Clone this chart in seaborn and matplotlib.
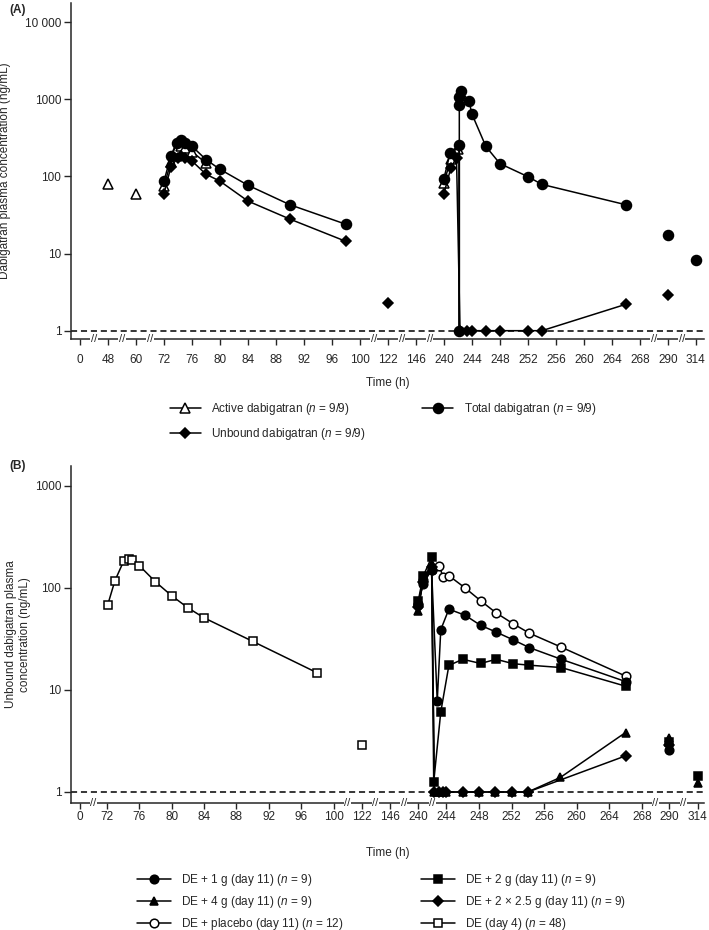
import numpy as np
import pandas as pd
import matplotlib
matplotlib.use('Agg')
import matplotlib.pyplot as plt
import matplotlib.transforms as mtransforms
from matplotlib.lines import Line2D
from matplotlib.ticker import FixedLocator, NullLocator
import seaborn as sns

# ---------------- panel A: dabigatran species (ng/mL) vs time (h) ----------------
a_total_p1_t = [72, 73, 73.8, 74.4, 75, 76, 78, 80, 84, 90, 98]
a_total_p1_c = [87, 185, 276, 296, 276, 247, 166, 124, 77, 43, 24]
a_total_p2_t = [240, 240.9, 242.2, 242.2, 242.2, 242.2, 242.4, 243.6, 244, 246, 248, 252, 254, 266]
a_total_p2_c = [94, 204, 257, 1, 847, 1064, 1300, 943, 646, 245, 147, 99.5, 79, 43]
a_total_pts_t = [290, 314]
a_total_pts_c = [17.3, 8.2]

a_unbound_p1_t = [72, 73, 74, 74.5, 75, 76, 78, 80, 84, 90, 98]
a_unbound_p1_c = [60, 134, 176, 185, 176, 159, 107, 87, 48, 28, 14.4]
a_unbound_p2_t = [240, 241, 241.8, 242.3, 243.3, 244, 246, 248, 252, 254, 266]
a_unbound_p2_c = [60, 130, 176, 1, 1, 1, 1, 1, 1, 1, 2.2]
a_unbound_pts_t = [122, 290]
a_unbound_pts_c = [2.3, 2.9]

a_active_p1_t = [72, 73, 73.8, 74.4, 75, 76, 78]
a_active_p1_c = [75, 155, 230, 250, 235, 210, 150]
a_active_p2_t = [240, 241, 242]
a_active_p2_c = [83, 170, 226]
a_active_pts_t = [48, 60]
a_active_pts_c = [79, 60]

# ---------------- panel B: unbound dabigatran by treatment ----------------
b_day4_t = [72.1, 73, 74.1, 74.7, 75.1, 76, 78, 80, 82, 84, 90, 98]
b_day4_c = [68, 118, 185, 194, 190, 166, 115, 84, 64, 51, 30, 14.7]
b_day4_pts_t = [122]
b_day4_pts_c = [2.9]

b_placebo_t = [240, 240.7, 241.9, 243, 243.5, 244.3, 246.3, 248.2, 250.1, 252.2, 254.2, 258.1, 266]
b_placebo_c = [70, 120, 150, 166, 128, 132, 100, 75, 57, 44.6, 36, 26.3, 13.7]

b_1g_t = [240, 240.7, 241.9, 242.7, 243.2, 244.3, 246.3, 248.2, 250.1, 252.2, 254.2, 258.1, 266]
b_1g_c = [68, 110, 150, 7.8, 39, 62, 54, 43, 37, 31, 26, 20, 12.1]
b_1g_pts_t = [290]
b_1g_pts_c = [2.6]

b_2g_t = [240, 240.7, 241.9, 242.2, 243.2, 244.3, 246, 248.2, 250.1, 252.2, 254.2, 258.1, 266]
b_2g_c = [74, 130, 200, 1.25, 6.1, 17.4, 20, 18.2, 20, 18.1, 17.5, 16.6, 10.9]
b_2g_pts_t = [290, 314]
b_2g_pts_c = [3.1, 1.42]

b_4g_t = [240, 240.7, 241.9, 242.3, 243, 243.5, 244, 246, 248, 250, 252, 254, 258, 266]
b_4g_c = [60, 120, 170, 1, 1, 1, 1, 1, 1, 1, 1, 1, 1.39, 3.83]
b_4g_pts_t = [290, 314]
b_4g_pts_c = [3.4, 1.22]

b_2x25_t = [240, 240.7, 241.9, 242.3, 243, 243.5, 244, 246, 248, 250, 252, 254, 266]
b_2x25_c = [65, 115, 160, 1, 1, 1, 1, 1, 1, 1, 1, 1, 2.26]
b_2x25_pts_t = [290]
b_2x25_pts_c = [2.9]

# broken time axis: tick hours and their slot positions along the axis
a_anchor_h = [0, 48, 60, 72, 100, 122, 146, 240, 268, 290, 314]
a_anchor_s = [0, 1, 2, 3, 10, 11, 12, 13, 20, 21, 22]
b_anchor_h = [0, 72, 100, 122, 146, 240, 244, 268, 290, 314]
b_anchor_s = [0, 0.96, 9.06, 10.06, 11.06, 12.08, 13.09, 20.07, 21.05, 22.06]

a_ticks = [0, 48, 60] + list(range(72, 101, 4)) + [122, 146] + list(range(240, 269, 4)) + [290, 314]
b_ticks = [0] + list(range(72, 101, 4)) + [122, 146] + list(range(240, 269, 4)) + [290, 314]
a_breaks = [(0, 48), (48, 60), (60, 72), (100, 122), (122, 146), (146, 240), (268, 290), (290, 314)]
b_breaks = [(0, 72), (100, 122), (122, 146), (146, 240), (240, 244), (268, 290), (290, 314)]

sns.set_style('ticks')
plt.rcParams['font.family'] = ['Liberation Sans Narrow', 'Liberation Sans', 'DejaVu Sans']
plt.rcParams['mathtext.fontset'] = 'custom'
plt.rcParams['mathtext.it'] = 'Liberation Sans:italic'
plt.rcParams['mathtext.rm'] = 'Liberation Sans'
FS = 8.5


def broken_scale(hours, slots):
    h = np.asarray(hours, float)
    s = np.asarray(slots, float)
    h = np.r_[h[0] - (h[1] - h[0]), h, h[-1] + (h[-1] - h[-2])]
    s = np.r_[s[0] - (s[1] - s[0]), s, s[-1] + (s[-1] - s[-2])]
    return (lambda x: np.interp(x, h, s)), (lambda y: np.interp(y, s, h))


def draw_series(ax, segs, marker, ms, fill='black'):
    rows = []
    for k, (t, c) in enumerate(segs):
        rows += [{'time': a, 'conc': b, 'seg': k} for a, b in zip(t, c)]
    df = pd.DataFrame(rows)
    sns.lineplot(data=df, x='time', y='conc', units='seg', estimator=None, sort=False,
                 color='black', lw=1.1, marker=marker, ms=ms, mfc=fill, mec='black',
                 mew=1.1, legend=False, ax=ax)


def split_pts(t, c):
    return [([a], [b]) for a, b in zip(t, c)]


def setup_axis(ax, anchors_h, anchors_s, ticks, breaks, ymax, ylabels, tick_pad):
    fwd, inv = broken_scale(anchors_h, anchors_s)
    ax.set_xscale('function', functions=(fwd, inv))
    ax.set_yscale('log')
    ax.set_xlim(inv(-0.32), inv(22.29))
    ax.xaxis.set_major_locator(FixedLocator(ticks))
    ax.xaxis.set_minor_locator(NullLocator())
    ax.set_xticklabels([str(t) for t in ticks])
    decades = [10 ** i for i in range(len(ylabels))]
    ax.yaxis.set_major_locator(FixedLocator(decades))
    ax.yaxis.set_minor_locator(NullLocator())
    ax.set_yticklabels(ylabels)
    ax.set_ylim(0.78, ymax)
    ax.axhline(1, color='black', lw=1.1, ls=(0, (4, 2.5)), zorder=1)
    sns.despine(ax=ax)
    for sp in ('left', 'bottom'):
        ax.spines[sp].set_linewidth(1.1)
    ax.tick_params(axis='x', length=4, width=1, pad=tick_pad, labelsize=FS, direction='out')
    ax.tick_params(axis='y', length=5, width=1, pad=2, labelsize=FS, direction='out')
    trans = mtransforms.blended_transform_factory(ax.transData, ax.transAxes)
    for h1, h2 in breaks:
        ax.text((h1 + h2) / 2, 0, '//', transform=trans, ha='center', va='center',
                fontsize=8, clip_on=False, zorder=6,
                bbox=dict(fc='white', ec='none', pad=0.3))


fig = plt.figure(figsize=(7.09, 9.30), dpi=100)
ax_a = fig.add_axes([71 / 709, 1 - 339 / 930, 633 / 709, 336 / 930])
ax_b = fig.add_axes([71 / 709, 1 - 803 / 930, 633 / 709, 337 / 930])

# panel A
draw_series(ax_a, [(a_active_p1_t, a_active_p1_c), (a_active_p2_t, a_active_p2_c)]
            + split_pts(a_active_pts_t, a_active_pts_c), '^', 7, 'white')
draw_series(ax_a, [(a_unbound_p1_t, a_unbound_p1_c), (a_unbound_p2_t, a_unbound_p2_c)]
            + split_pts(a_unbound_pts_t, a_unbound_pts_c), 'D', 5.6)
draw_series(ax_a, [(a_total_p1_t, a_total_p1_c), (a_total_p2_t, a_total_p2_c)]
            + split_pts(a_total_pts_t, a_total_pts_c), 'o', 7.2)
setup_axis(ax_a, a_anchor_h, a_anchor_s, a_ticks, a_breaks, 17800,
           ['1', '10', '100', '1000', '10 000'], 7)
ax_a.set_xlabel('Time (h)', fontsize=FS, labelpad=8)
ax_a.set_ylabel('Dabigatran plasma concentration (ng/mL)', fontsize=FS, labelpad=10)

# panel B
draw_series(ax_b, [(b_day4_t, b_day4_c)] + split_pts(b_day4_pts_t, b_day4_pts_c), 's', 5.8, 'white')
draw_series(ax_b, [(b_placebo_t, b_placebo_c)], 'o', 6.2, 'white')
draw_series(ax_b, [(b_1g_t, b_1g_c)] + split_pts(b_1g_pts_t, b_1g_pts_c), 'o', 6.2)
draw_series(ax_b, [(b_4g_t, b_4g_c)] + split_pts(b_4g_pts_t, b_4g_pts_c), '^', 6.4)
draw_series(ax_b, [(b_2x25_t, b_2x25_c)] + split_pts(b_2x25_pts_t, b_2x25_pts_c), 'D', 4.8)
draw_series(ax_b, [(b_2g_t, b_2g_c)] + split_pts(b_2g_pts_t, b_2g_pts_c), 's', 5.8)
setup_axis(ax_b, b_anchor_h, b_anchor_s, b_ticks, b_breaks, 1570,
           ['1', '10', '100', '1000'], 2)
ax_b.set_xlabel('Time (h)', fontsize=FS, labelpad=17)
ax_b.set_ylabel('Unbound dabigatran plasma\nconcentration (ng/mL)', fontsize=FS, labelpad=3)

fig.text(18 / 709, 1 - 10 / 930, '(A)', fontsize=FS, fontweight='bold', ha='center', va='center')
fig.text(18 / 709, 1 - 466 / 930, '(B)', fontsize=FS, fontweight='bold', ha='center', va='center')


def handle(marker, ms, fill='black'):
    return Line2D([], [], color='black', lw=1.1, marker=marker, ms=ms, mfc=fill, mec='black', mew=1.1)


leg_a = [handle('^', 7, 'white'), handle('D', 5.6), handle('o', 7.2)]
lab_a = [r'Active dabigatran ($n$ = 9/9)', r'Unbound dabigatran ($n$ = 9/9)',
         r'Total dabigatran ($n$ = 9/9)']
fig.legend(leg_a, lab_a, loc='upper left', bbox_to_anchor=(170 / 709, 1 - 401 / 930), ncol=2,
           frameon=False, fontsize=FS, handlelength=2.6, handletextpad=0.9,
           columnspacing=4.8, labelspacing=0.8, borderpad=0, borderaxespad=0)

leg_b = [handle('o', 6.2), handle('^', 6.4), handle('o', 6.2, 'white'),
         handle('s', 5.8), handle('D', 4.8), handle('s', 5.8, 'white')]
lab_b = [r'DE + 1 g (day 11) ($n$ = 9)', r'DE + 4 g (day 11) ($n$ = 9)',
         r'DE + placebo (day 11) ($n$ = 12)', r'DE + 2 g (day 11) ($n$ = 9)',
         r'DE + 2 × 2.5 g (day 11) ($n$ = 9)', r'DE (day 4) ($n$ = 48)']
fig.legend(leg_b, lab_b, loc='upper left', bbox_to_anchor=(137 / 709, 1 - 872 / 930), ncol=2,
           frameon=False, fontsize=FS, handlelength=2.9, handletextpad=0.8,
           columnspacing=6.6, labelspacing=0.5, borderpad=0, borderaxespad=0)

fig.savefig('out.png', dpi=100, facecolor='white')
